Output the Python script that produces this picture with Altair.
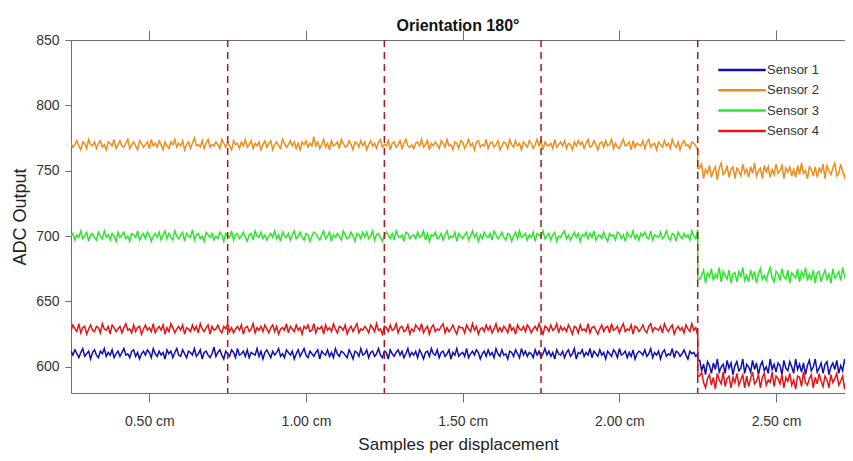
import altair as alt
import pandas as pd

# ---------------- data ----------------
sensors = ["Sensor 1", "Sensor 2", "Sensor 3", "Sensor 4"]
colors = ["#1010B0", "#EE8C1C", "#2EE52E", "#E31515"]

# level of each sensor before / after the last displacement boundary
level_before = [610, 770, 700, 629]
level_after = [600, 750, 670, 590]
boundary = 2.25
x_start, x_end = 0.25, 2.75      # sampled span
x_view_end = 2.72                # visible right edge (figure is cut off)

tick_values = [0.5, 1.0, 1.5, 2.0, 2.5]
boundaries = [0.75, 1.25, 1.75, 2.25]
y_ticks = [600, 650, 700, 750, 800, 850]

# hand-read noise around each level (ADC counts)
noise_s1 = [
2,-1,3,0,-3,1,4,-2,0,2,-4,1,3,-1,-3,2,0,4,-2,1,
-1,3,-3,0,2,-2,1,4,-1,0,-3,2,3,-2,1,-4,0,2,-1,3,
1,-3,4,0,-2,2,-1,1,-4,3,0,2,-3,1,4,-1,-2,3,0,-3,
2,1,-1,4,-2,0,3,-4,1,2,-1,-3,0,5,-2,1,3,-1,-4,2,
0,-2,3,1,-3,4,-1,0,2,-2,3,-3,1,0,-1,4,-2,2,-4,1,
3,0,-3,2,-1,1,4,-2,0,-3,3,1,-1,2,-4,0,3,-2,1,4,
-1,-3,2,0,-2,1,3,-4,2,0,-1,3,-2,1,-3,4,0,-2,2,1,
-1,-3,3,0,-4,2,1,-2,4,-1,0,3,-3,1,2,-2,0,4,-1,-3,
2,1,-4,3,0,-2,1,3,-1,2,-3,0,4,-2,1,-1,2,-3,3,0,
-4,1,2,-2,4,0,-1,3,-3,1,2,-2,0,3,-4,1,-1,4,-2,0,
1,-2,4,-3,0,2,-1,3,1,-4,0,2,-2,3,-1,1,-3,4,0,-2,
3,-1,0,-4,2,1,-2,3,0,-3,4,-1,2,-2,1,0,-3,3,-1,2,
-3,0,4,-1,2,-2,1,-4,3,0,-1,2,-3,1,3,-2,0,4,-4,1,
0,3,-2,1,-1,4,-3,2,0,-2,3,-1,1,-4,2,0,-2,3,1,-3,
4,-1,0,2,-3,1,-2,3,-4,0,2,1,-1,3,-2,0,4,-3,1,-1,
2,-4,1,3,-2,0,-1,4,-3,2,1,-2,0,3,-1,-4,2,0,1,-2,
0,5,-3,2,-6,4,1,-5,3,-2,6,-4,0,2,-5,5,-1,3,-6,1,
4,-3,-1,6,-5,2,0,-4,5,-2,3,-6,1,4,-3,0,-5,6,-2,2,
-4,3,1,-6,5,-1,-3,4,0,-5,6,-2,2,-4,3,-6,1,5,-3,0,
6,-4,-1,3,-5,2,4,-6,0,3,-2,5,-5,1,-3,6,-1,-4,2,5,
-2]

noise_s2 = [
1,-2,0,3,-1,-4,2,1,-3,4,0,-1,2,-3,1,3,-2,0,-4,2,
1,-1,4,-3,0,3,-1,-2,1,4,-3,0,2,-1,-4,3,1,-2,0,2,
-3,4,-1,1,-2,3,0,-4,2,-1,-3,2,0,4,-2,1,-1,3,-4,0,
2,-3,1,5,-1,0,-2,3,-3,1,4,-2,0,-1,2,0,-3,4,1,-2,
2,-1,-4,3,0,1,-3,2,-1,4,-2,0,3,-3,1,-1,2,-4,0,3,
-2,1,3,-4,0,2,-1,-3,4,1,-2,0,3,-1,2,-3,1,-4,2,0,
3,-2,1,-1,6,-1,2,-3,0,4,-2,1,-4,3,-1,0,2,-3,4,1,
-2,-1,3,0,-4,2,1,-2,3,-1,2,-4,0,3,-1,1,-3,2,4,-2,
0,-1,3,-4,1,2,-2,0,3,-3,1,4,-1,-2,0,-3,1,2,-1,4,
-2,0,3,-4,1,-1,2,0,-3,3,1,-2,4,-1,0,-4,2,1,-3,3,
2,-3,0,4,-1,1,-4,2,3,-2,0,-1,4,-3,1,2,-2,0,3,-4,
-1,2,1,-3,4,0,-2,3,-1,1,-4,2,0,-2,3,1,-3,0,4,-1,
3,-4,2,0,-1,1,-3,4,-2,0,2,-1,3,-3,1,0,-4,2,-1,3,
0,2,-3,1,4,-2,-1,3,0,-4,1,2,-2,3,-1,0,4,-3,1,-2,
-3,1,4,-1,0,2,-4,3,-2,1,0,-1,3,-3,2,4,-2,0,1,-4,
2,0,-2,3,-1,1,-3,4,0,-2,2,-4,1,3,-1,0,-3,2,1,-1,
-4,2,5,-6,1,-2,4,-5,0,3,-7,2,6,-3,-1,4,-5,1,3,-6,
2,0,-4,5,-2,1,-5,3,-2,6,-4,0,2,-6,4,-1,3,-5,1,-3,
5,-2,0,4,-6,2,-1,3,-4,1,-5,4,-3,6,-2,0,-6,3,1,-4,
3,-5,2,-1,5,-6,4,0,-3,2,6,-4,-2,5,-1,-5,3,1,-6,4,
0]

noise_s3 = [
0,2,-3,1,-1,4,-2,0,3,-4,1,2,-1,-3,3,0,-2,4,-1,1,
-3,2,0,-4,3,-1,1,3,-2,0,-4,2,1,-1,4,-3,0,2,-2,3,
1,-4,0,2,-1,3,-3,1,4,-2,2,-1,-3,4,0,-2,1,3,-4,2,
0,-1,5,-3,1,2,-2,0,-4,3,1,-1,2,-3,0,-2,3,1,-4,2,
0,-1,4,-3,1,2,-2,0,3,-1,-4,1,2,-3,4,0,-1,3,-2,1,
-3,0,2,-1,4,-2,1,-4,3,0,-1,2,-3,1,4,-2,0,3,-1,-3,
2,1,-4,0,3,2,-1,-3,1,4,-2,0,3,-4,1,-1,2,0,-3,4,
1,-2,-1,3,0,-4,2,1,-2,3,-1,3,-2,0,4,-3,1,2,-1,-4,
0,3,1,-2,2,-3,4,0,-1,1,-4,3,2,-2,0,1,-2,3,-1,0,
4,-3,2,-4,1,0,3,-2,-1,2,-3,1,4,-2,0,-1,3,-4,2,0,
-2,1,3,-3,0,4,-1,2,-4,1,-2,3,0,-1,2,-3,4,1,-2,0,
3,-1,-3,2,1,-4,0,3,-2,4,-1,0,2,-3,1,-1,3,-4,2,1,
-1,4,-2,0,2,-3,1,3,-4,0,-1,2,4,-2,1,-3,0,3,-1,2,
-4,1,0,3,-2,2,-1,4,-3,0,1,-2,3,-1,-4,2,0,1,-3,3,
2,-2,1,-4,3,0,-1,4,-2,1,-3,2,0,3,-1,-2,4,-3,1,0,
-1,3,-2,0,4,-1,-3,2,1,-4,3,0,-2,2,-1,1,-3,4,0,-2,
5,-3,0,4,-6,2,-1,5,-4,1,-2,6,-5,3,0,-3,4,-6,1,2,
-5,3,-1,6,-4,0,-5,4,-2,3,-6,1,5,-3,0,-4,2,6,-2,-5,
3,1,-4,5,-1,-3,4,-6,2,0,-2,5,-5,3,-1,6,-4,1,-3,4,
-6,2,3,-5,0,4,-3,1,-6,5,-2,0,3,-4,6,-1,-5,2,-3,4,
-2]

noise_s4 = [
-1,3,0,-2,4,-3,1,2,-4,0,3,-1,-2,2,1,-3,4,0,-1,2,
-4,3,1,-2,0,2,-3,1,4,-1,0,-3,3,-2,1,2,-4,0,3,-1,
1,-2,4,-3,0,2,-1,3,-4,1,-2,4,1,-3,0,2,-1,3,-4,1,
0,-2,3,-1,2,-3,4,0,-2,1,3,-4,2,-1,0,3,-1,-3,2,0,
4,-2,1,-3,0,2,-1,3,-4,1,2,-2,0,4,-3,1,-1,2,-2,3,
0,-3,1,3,-2,2,-4,0,1,-1,4,-3,2,0,-2,3,-1,1,-4,2,
0,3,-2,-1,4,-3,1,0,2,-4,3,-1,1,-2,4,0,-3,2,1,-1,
3,-4,0,2,-2,1,4,-3,0,-1,2,0,-3,3,1,-2,4,-1,0,-4,
2,1,-2,3,-1,0,4,-3,1,2,-2,-1,3,-4,0,-2,3,1,-1,4,
-3,0,2,-4,1,3,-2,0,-1,2,4,-3,1,-2,0,3,-1,-4,2,1,
1,-3,3,0,-2,4,-1,2,-4,0,1,-2,3,-1,2,-3,0,4,-2,1,
-2,2,0,-3,4,-1,1,-4,3,0,-1,2,-2,3,1,-3,0,2,-1,4,
0,-4,2,1,-2,3,-1,0,4,-3,2,-1,1,-2,3,0,-4,2,1,-3,
3,-1,0,-2,4,-3,1,2,-1,-4,0,3,-2,1,2,-3,4,-1,0,2,
-3,1,4,-2,0,-1,3,-4,2,1,-2,0,3,-1,-3,2,4,-2,1,0,
-1,2,-3,4,0,-2,1,3,-4,0,2,-1,1,-3,3,0,-2,4,-1,1,
-5,3,6,-2,-6,1,4,-4,2,-7,5,0,-3,6,-5,1,3,-6,2,-2,
5,-4,0,4,-6,3,-5,1,6,-3,-1,4,-6,2,5,-4,0,-2,6,-5,
3,1,-3,4,-6,2,-1,5,-4,0,-7,3,2,-5,6,-2,-4,1,4,-6,
2,-3,5,-1,-5,3,0,-6,4,-2,1,5,-4,-1,3,-7,2,4,-5,0,
3]

noises = [noise_s1, noise_s2, noise_s3, noise_s4]

rows = []
for s, name in enumerate(sensors):
    nz = noises[s]
    n = len(nz)
    step = (x_end - x_start) / (n - 1)
    order = 0
    inserted = False
    for i, v in enumerate(nz):
        x = x_start + i * step
        if x > boundary + 1e-9 and not inserted:
            rows.append({"x": boundary, "y": level_after[s] + v, "sensor": name, "ord": order})
            order += 1
            inserted = True
        lvl = level_before[s] if x <= boundary + 1e-9 else level_after[s]
        rows.append({"x": x, "y": lvl + v, "sensor": name, "ord": order})
        order += 1

df = pd.DataFrame(rows)
bdf = pd.DataFrame({"x": boundaries})

FONT = "Liberation Sans"
AX = "#6E6E6E"
xscale = alt.Scale(domain=[x_start, x_view_end], nice=False, zero=False)
yscale = alt.Scale(domain=[580, 850], nice=False, zero=False)

lines = alt.Chart(df).mark_line(strokeWidth=1.5, clip=True).encode(
    x=alt.X("x:Q", scale=xscale,
            axis=alt.Axis(values=tick_values, labelExpr="format(datum.value, '.2f') + ' cm'",
                          title="Samples per displacement", grid=False, tickSize=9,
                          labelFontSize=14, titleFontSize=17, labelPadding=12,
                          titlePadding=8, labelColor="#333", titleColor="#222",
                          labelFont=FONT, titleFont=FONT, titleFontWeight="normal",
                          domainColor=AX, tickColor=AX)),
    y=alt.Y("y:Q", scale=yscale,
            axis=alt.Axis(values=y_ticks, title="ADC Output", grid=False, tickSize=6,
                          labelFontSize=14, titleFontSize=18, labelPadding=6,
                          titlePadding=6, labelColor="#333", titleColor="#222",
                          labelFont=FONT, titleFont=FONT, titleFontWeight="normal",
                          domainColor=AX, tickColor=AX)),
    color=alt.Color("sensor:N", scale=alt.Scale(domain=sensors, range=colors),
                    legend=alt.Legend(title=None, orient="none", legendX=660, legendY=19,
                                      symbolType="M-2.5,0L2.5,0", symbolSize=361,
                                      symbolStrokeWidth=2.5, labelFontSize=13,
                                      labelFont=FONT, labelColor="#333",
                                      rowPadding=2.3, padding=0, labelOffset=14)),
    order="ord:Q",
)

rules = alt.Chart(bdf).mark_rule(color="#A8191B", strokeDash=[7, 5], strokeWidth=1.5).encode(
    x=alt.X("x:Q", scale=xscale,
            axis=alt.Axis(orient="top", values=tick_values, labels=False, title=None,
                          grid=False, tickSize=10, domainColor=AX, tickColor=AX))
)

chart = alt.layer(lines, rules).resolve_axis(x="independent").properties(
    width=774, height=353,
    title=alt.Title("Orientation 180°", fontSize=16, fontWeight="bold", font=FONT,
                    color="#111", offset=-4),
    autosize=alt.AutoSizeParams(type="none"),
    padding={"left": 63, "top": 32, "right": 0, "bottom": 60},
).configure_view(stroke=None)

chart.save("out.html", embed_options={"renderer": "svg", "actions": False})
